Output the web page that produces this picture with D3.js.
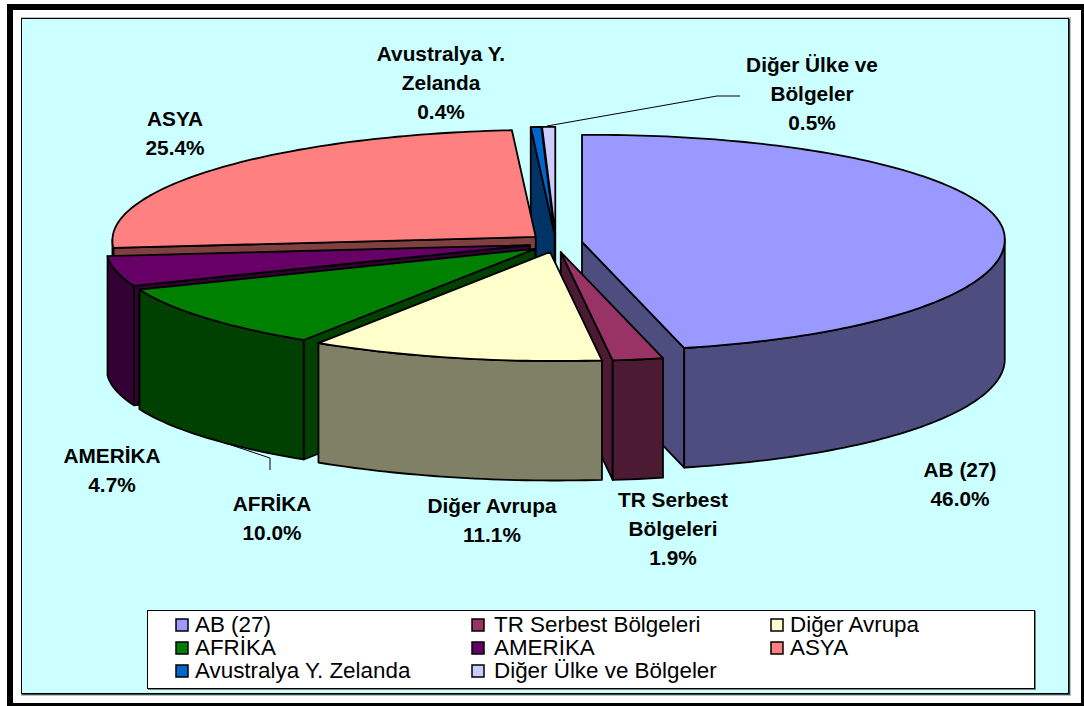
<!DOCTYPE html>
<html><head><meta charset="utf-8">
<script src="https://cdn.jsdelivr.net/npm/d3@7/dist/d3.min.js"></script>
<style>html,body{margin:0;padding:0;background:#fff}svg{display:block}text{font-family:"Liberation Sans",Arial,sans-serif}</style>
</head><body><svg id="c" width="1084" height="706"></svg>
<script>
const categories=["AB (27)","TR Serbest Bölgeleri","Diğer Avrupa","AFRİKA","AMERİKA","ASYA","Avustralya Y. Zelanda","Diğer Ülke ve Bölgeler"];
const values=[46.0,1.9,11.1,10.0,4.7,25.4,0.4,0.5];
const topColors=["#9999FF","#993366","#FFFFCC","#008000","#660066","#FF8080","#0066CC","#CCCCFF"];
const wallColors=["#4D4D80","#4D1A33","#808066","#004000","#330033","#804040","#003366","#666680"];
const drawOrder=[7,6,5,4,3,0,1,2];
const labelLines=[["AB (27)","46.0%"],["TR Serbest","Bölgeleri","1.9%"],["Diğer Avrupa","11.1%"],["AFRİKA","10.0%"],["AMERİKA","4.7%"],["ASYA","25.4%"],["Avustralya Y.","Zelanda","0.4%"],["Diğer Ülke ve","Bölgeler","0.5%"]];
const labelAnchors=[[960,477],[673,507],[492,513],[272,511],[112,463],[175,126],[441,61],[812,72]];

const svg=d3.select("#c");
svg.append("rect").attr("x",7).attr("y",4).attr("width",1077).attr("height",702).attr("fill","#000");
svg.append("rect").attr("x",13).attr("y",10).attr("width",1068).attr("height",693).attr("fill","#fff");
svg.append("rect").attr("x",21).attr("y",17).attr("width",1050).attr("height",679).attr("fill","#BFBFBF");
svg.append("rect").attr("x",22).attr("y",19).attr("width",1048).attr("height",676).attr("fill","#2F4F4F");
svg.append("rect").attr("x",21.5).attr("y",18.5).attr("width",1047).attr("height",675).attr("fill","#CCFFFF").attr("stroke","#000").attr("stroke-width",1);

const cx=555.7,cy=243,rxRight=425,rxLeft=421,ryBack=107,ryFront=109,depth=119.5,exX=26.5,exY=9.2;
const pie=d3.pie().sort(null).value(d=>d)(values);
const mid=d=>(d.startAngle+d.endAngle)/2;
const front=t=>Math.cos(t)<0?Math.sin(2*t):0;
const px=(t)=>(Math.sin(t)<0?rxLeft:rxRight)*Math.sin(t)-4.5*Math.sin(t/2)**2-2*front(t);
const py=(t)=>-(Math.cos(t)<0?ryFront:ryBack)*Math.cos(t)-2.5*Math.sin(t)-2.5*front(t);
const line=d3.line();
function samples(a,b){const n=Math.max(2,Math.ceil((b-a)/0.02));return d3.range(n+1).map(i=>a+(b-a)*i/n);}
drawOrder.forEach(i=>{
  const d=pie[i],m=mid(d);
  const ax=cx+exX*Math.sin(m),ay=cy-exY*Math.cos(m);
  const P=t=>[ax+px(t),ay+py(t)];
  const drop=p=>[p[0],p[1]+depth];
  const A=[ax,ay];
  const wall=t=>[A,P(t),drop(P(t)),drop(A)];
  const g=svg.append("g");
  const paint=pts=>g.append("path").attr("d",line(pts)+"Z").attr("fill",wallColors[i]).attr("stroke","#000").attr("stroke-width",1.8).attr("stroke-linejoin","round");
  if(Math.sin(d.startAngle)<-1e-6) paint(wall(d.startAngle));
  if(Math.sin(d.endAngle)>1e-6) paint(wall(d.endAngle));
  const r0=Math.max(d.startAngle,Math.PI/2),r1=Math.min(d.endAngle,Math.PI*1.5);
  if(r1>r0){const arc=samples(r0,r1).map(P);paint(arc.concat(arc.map(drop).reverse()));}
  g.append("path").attr("d",line([A].concat(samples(d.startAngle,d.endAngle).map(P)))+"Z").attr("fill",topColors[i]).attr("stroke","#000").attr("stroke-width",1.8).attr("stroke-linejoin","round");
});
svg.append("path").attr("d","M547,126L717,96L740,96").attr("fill","none").attr("stroke","#000").attr("stroke-width",1);
svg.append("path").attr("d","M210,438L270,458L270,470").attr("fill","none").attr("stroke","#000").attr("stroke-width",1);
categories.forEach((c,i)=>{
  const t=svg.append("text").attr("text-anchor","middle").attr("font-weight","bold").attr("font-size",20.8).attr("fill","#000");
  labelLines[i].forEach((s,j)=>t.append("tspan").attr("x",labelAnchors[i][0]).attr("y",labelAnchors[i][1]+j*29).text(s));
});
svg.append("rect").attr("x",148).attr("y",611).attr("width",888).attr("height",79).attr("fill","#808080");
svg.append("rect").attr("x",147.5).attr("y",610.5).attr("width",887).attr("height",78).attr("fill","#fff").attr("stroke","#000").attr("stroke-width",1);
const swatchX=[176,472,771],textX=[195,494,790],rowY=[625,648,671];
categories.forEach((c,i)=>{
  const k=i%3,y=rowY[Math.floor(i/3)];
  svg.append("rect").attr("x",swatchX[k]).attr("y",y-6).attr("width",12).attr("height",12).attr("fill",topColors[i]).attr("stroke","#000").attr("stroke-width",1.5);
  svg.append("text").attr("x",textX[k]).attr("y",y+7).attr("font-size",22.4).attr("fill","#000").text(c);
});
</script></body></html>
